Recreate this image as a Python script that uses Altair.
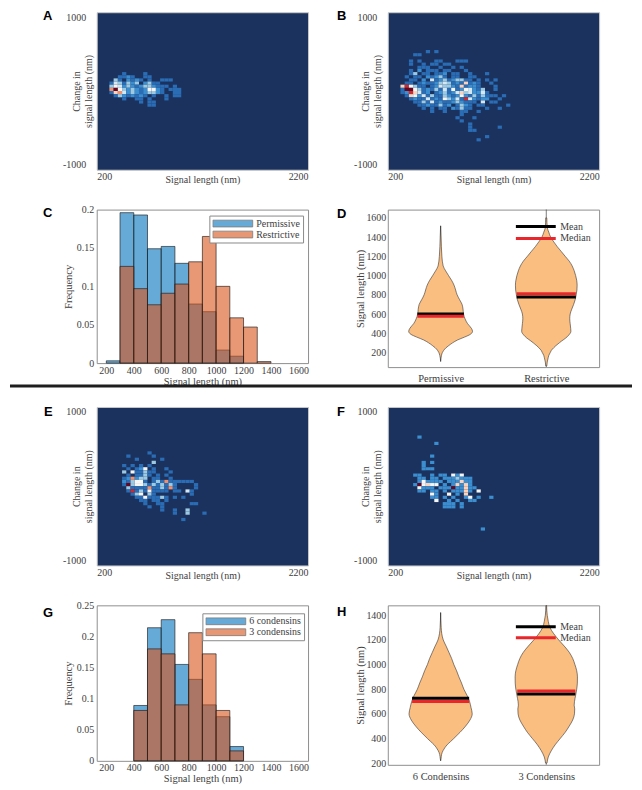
import altair as alt
import pandas as pd

SERIF = "Liberation Serif"
SANS = "Liberation Sans"
INK = "#3d3d3d"
NAVY = "#1c325e"
FRAME = "#8f8f8f"
VIOLIN = "#fbbe81"

# ---------------- heat maps: 2-D histograms, 40 nm bins ----------------
# each string is one row of bins (top to bottom); '.' = empty, digits = count level
HM_LEVELS = ["1", "2", "3", "4", "5", "6", "7", "8", "9"]
HM_COLORS = ["#2a6db5", "#3b8ecf", "#9ccae3", "#d4e7f2", "#f6f6f6",
             "#fbd3bd", "#ef8f6e", "#cb2b2f", "#6a051f"]

A_ROW0, A_COL0 = 19, 2
A_GRID = [
    "....1....1",
    "...1121..11",
    "..31.2121.1..111",
    ".1431323.2311",
    ".35423212332111.1",
    ".7953232125521.111",
    ".1674232123321..11",
    "..13212121.1..1.11",
    "....1..11.1...1",
    "........1.11",
    "..........11",
]

B_ROW0, B_COL0 = 12, 3
B_GRID = [
    "......1.1",
    "...11",
    "",
    "..1.1...11...111",
    "..1..1.11.11",
    "....111..1..1.1",
    "..1.2.111.11...1",
    "..13.11.112.11..1...1",
    ".1.11.21231.11..11",
    "..11.2.4123123311.1.1.1",
    ".11.121123431216121..1",
    "685311.124332161221...1",
    "19953121314151254213..1",
    "1286412.1231246342241",
    ".1652413113212521313111.1",
    "..1211412153241842122..1",
    "...113141211232111.4.11",
    "....11211312.1321.11.....1",
    ".....1.1.11.21311...1..1",
    ".......1..1...11..1",
    "..............1",
    ".............1...1",
    "..............1",
    "................1",
    "................1......1",
    "................11",
    "",
    "....................1",
    "..................1",
]

E_ROW0, E_COL0 = 14, 6
E_GRID = [
    "......1",
    ".1.....1",
    "...1.....1",
    ".......3",
    "1.1.1.1",
    ".1.125.1..1",
    "3.511311...1",
    ".1.1131.1.1",
    "127233.11..1",
    "213551.1317111111",
    "1935531313131....1",
    ".311117113171....1",
    ".1813151111.11.41",
    "..135.31........1",
    "...11511131.1.1",
    "....11.11.1",
    ".....1..11......11",
    "......1..1",
    ".........1..1..3",
    "............1..3...1",
    "",
    "..............1",
]

F_ROW0, F_COL0 = 9, 6
F_GRID = [
    ".2",
    "",
    ".....2",
    "", "", "",
    "....2",
    "",
    "..2.2",
    "..2",
    "..222",
    "",
    "22..2.22.525",
    ".22.22.2223222",
    ".252222.222622",
    "295655.2.26262",
    ".5222.222922622",
    ".22.22.2.22262.5",
    "....52..5.2.6",
    "....22.2.2..25.2..2",
    ".....5..2.2..22",
    ".......222.2",
    ".......222.2",
    "", "", "", "", "", "",
    "................2",
]

# ---------------- histograms ----------------
C_EDGES = [200, 300, 400, 500, 600, 700, 800, 900, 1000, 1100, 1200, 1300, 1400]
C_NAMES = ["Permissive", "Restrictive"]
C_PERM = [0.003, 0.196, 0.193, 0.149, 0.152, 0.130, 0.077, 0.067, 0.017, 0.009, 0.0, 0.0]
C_REST = [0.0, 0.126, 0.097, 0.076, 0.091, 0.103, 0.132, 0.165, 0.100, 0.059, 0.047, 0.002]

G_EDGES = [400, 500, 600, 700, 800, 900, 1000, 1100, 1200]
G_NAMES = ["6 condensins", "3 condensins"]
G_SIX = [0.089, 0.214, 0.227, 0.155, 0.131, 0.090, 0.071, 0.023]
G_THREE = [0.081, 0.180, 0.172, 0.090, 0.206, 0.172, 0.081, 0.016]

HIST_XTICKS = [200, 400, 600, 800, 1000, 1200, 1400, 1600]

# ---------------- violins (half-width in category units) ----------------
D_GROUPS = ["Permissive", "Restrictive"]
D_PERM_Y = [107, 140, 170, 200, 220, 250, 270, 300, 330, 360, 390, 420, 450, 500, 550, 600,
            650, 700, 750, 800, 850, 900, 950, 1000, 1050, 1100, 1200, 1300, 1400, 1517]
D_PERM_HW = [0.0, 0.003, 0.008, 0.017, 0.028, 0.052, 0.075, 0.113, 0.160, 0.226, 0.283, 0.302,
             0.292, 0.255, 0.231, 0.217, 0.212, 0.203, 0.179, 0.156, 0.142, 0.127, 0.104,
             0.075, 0.047, 0.024, 0.012, 0.007, 0.004, 0.0]
D_REST_Y = [60, 100, 150, 170, 200, 220, 250, 270, 300, 320, 350, 380, 420, 450, 500, 550, 600,
            650, 700, 750, 800, 850, 900, 950, 1000, 1050, 1100, 1150, 1200, 1250, 1300,
            1350, 1400, 1450, 1500, 1600]
D_REST_HW = [0.005, 0.009, 0.019, 0.024, 0.038, 0.047, 0.071, 0.090, 0.123, 0.146, 0.184, 0.212,
             0.233, 0.231, 0.226, 0.222, 0.226, 0.241, 0.259, 0.274, 0.283, 0.290, 0.292,
             0.288, 0.278, 0.264, 0.245, 0.217, 0.179, 0.142, 0.104, 0.071, 0.041, 0.024,
             0.009, 0.005]
D_TAIL_LO = [107, 0]
D_TAIL_HI = [1517, 2000]
D_MEAN = [600, 777]
D_MEDIAN = [577, 812]
D_LINE_HW = [0.22, 0.28]

H_GROUPS = ["6 Condensins", "3 Condensins"]
H_SIX_Y = [219, 240, 270, 300, 325, 350, 375, 400, 450, 500, 550, 600, 650, 700, 750, 800,
           850, 900, 950, 1000, 1050, 1100, 1150, 1200, 1250, 1300, 1422]
H_SIX_HW = [0.0, 0.004, 0.009, 0.022, 0.040, 0.063, 0.094, 0.125, 0.184, 0.236, 0.278, 0.299,
            0.288, 0.274, 0.250, 0.220, 0.198, 0.173, 0.151, 0.125, 0.104, 0.078, 0.052,
            0.025, 0.011, 0.005, 0.0]
H_THREE_Y = [200, 250, 300, 350, 400, 450, 500, 550, 600, 640, 670, 700, 750, 800, 850, 900,
             950, 1000, 1050, 1100, 1150, 1200, 1250, 1300, 1350, 1400, 1480]
H_THREE_HW = [0.007, 0.019, 0.047, 0.085, 0.132, 0.179, 0.217, 0.250, 0.267, 0.269, 0.264,
              0.267, 0.278, 0.288, 0.294, 0.295, 0.288, 0.271, 0.250, 0.217, 0.170, 0.118,
              0.071, 0.035, 0.019, 0.009, 0.003]
H_TAIL_LO = [219, 0]
H_TAIL_HI = [1422, 2000]
H_MEAN = [727, 762]
H_MEDIAN = [700, 786]
H_LINE_HW = [0.27, 0.275]

STATS = ["Mean", "Median"]
STAT_COLORS = ["#000000", "#e8262b"]

ASCII_NUM = "datum.value < 0 ? '-' + abs(datum.value) : '' + datum.value"


def letter_mark(letter, dx, dy):
    return alt.Chart(pd.DataFrame({"t": [letter]})).mark_text(
        font=SANS, fontSize=13, fontWeight="bold", align="left", baseline="top", color="#000"
    ).encode(x=alt.value(dx), y=alt.value(dy), text="t:N")


def hm_table(grid, row0, col0):
    recs = []
    for i, line in enumerate(grid):
        for j, ch in enumerate(line):
            if ch != ".":
                x0 = 200 + 40 * (col0 + j)
                ytop = 1000 - 40 * (row0 + i)
                recs.append({"x0": x0, "x1": x0 + 40, "y0": ytop - 40, "y1": ytop, "level": ch})
    return pd.DataFrame(recs)


def heatmap(grid, row0, col0, letter, ldx, ldy, tx, height):
    df = hm_table(grid, row0, col0)
    xs = alt.Scale(domain=[200, 2200], nice=False, zero=False)
    ys = alt.Scale(domain=[-1000, 1000], nice=False, zero=False)
    rect = alt.Chart(df).mark_rect().encode(
        x=alt.X("x0:Q", scale=xs, axis=alt.Axis(
            values=[200, 2200], labelExpr=ASCII_NUM, title="Signal length (nm)",
            labelFlush=True, ticks=False, tickSize=0, domain=False, labelPadding=2,
            titleY=5, titleBaseline="top", titleFontSize=10)),
        x2="x1:Q",
        y=alt.Y("y0:Q", scale=ys, axis=alt.Axis(
            values=[-1000, 1000], labelExpr=ASCII_NUM, title=["Change in", "signal length (nm)"],
            ticks=False, tickSize=0, domain=False, labelPadding=11,
            labelBaseline={"condition": {"test": "datum.value > 0", "value": "top"},
                           "value": "bottom"},
            titleX=tx, titleBaseline="bottom", titleFontSize=10, titleLineHeight=12)),
        y2="y1:Q",
        color=alt.Color("level:N", scale=alt.Scale(domain=HM_LEVELS, range=HM_COLORS),
                        legend=None),
    )
    return alt.layer(rect, letter_mark(letter, ldx, ldy)).properties(
        width=212, height=height,
        view=alt.ViewBackground(fill=NAVY, stroke="#c8c8c8", strokeWidth=1))


def hist(edges, names, s1, s2, ymax, yticks, letter, ldx, ldy, lx, ly, height, title_y,
         extra=None):
    recs = []
    for name, vals in ((names[0], s1), (names[1], s2)):
        for i, v in enumerate(vals):
            if v > 0:
                recs.append({"series": name, "x0": edges[i], "x1": edges[i + 1],
                             "freq": v, "base": 0.0})
    df = pd.DataFrame(recs)
    bars = alt.Chart(df).mark_rect(fillOpacity=0.6, stroke="#1a1a1a", strokeWidth=0.8,
                                   strokeOpacity=0.8).encode(
        x=alt.X("x0:Q", scale=alt.Scale(domain=[130, 1670], nice=False, zero=False),
                axis=alt.Axis(values=HIST_XTICKS, format="d", title="Signal length (nm)",
                              ticks=False, tickSize=0, domain=False, labelPadding=2,
                              titleY=title_y, titleBaseline="top")),
        x2="x1:Q",
        y=alt.Y("freq:Q", stack=None, scale=alt.Scale(domain=[0, ymax], nice=False),
                axis=alt.Axis(values=yticks, format=".2~f", title="Frequency", ticks=False,
                              tickSize=0, domain=False, labelPadding=3, titleX=-23)),
        y2="base:Q",
        color=alt.Color("series:N", sort=names,
                        scale=alt.Scale(domain=names, range=["#0072BD", "#D95319"]),
                        legend=alt.Legend(title=None, orient="none", legendX=lx, legendY=ly,
                                          symbolType="M-1,-0.17H1V0.17H-1Z", symbolSize=1600,
                                          symbolOpacity=0.6, symbolStrokeColor="#222",
                                          symbolStrokeWidth=0.8, clipHeight=10, rowPadding=1,
                                          padding=3, strokeColor="#8a8a8a", fillColor="white",
                                          labelOffset=3, labelFontSize=10)),
    )
    layers = [bars, letter_mark(letter, ldx, ldy)]
    if extra is not None:
        layers.append(extra)
    return alt.layer(*layers).properties(
        width=212, height=height,
        view=alt.ViewBackground(fill="white", stroke=FRAME, strokeWidth=1))


def violin(groups, profiles, tails_lo, tails_hi, means, medians, line_hw, ydom, yticks,
           letter, ldx, ldy, ly, clip_h, height, lab_pad):
    prof = []
    for gi, (ys, hws) in enumerate(profiles):
        c = gi + 1
        for y, hw in zip(ys, hws):
            prof.append({"g": groups[gi], "y": y, "xl": c - hw, "xr": c + hw})
    prof = pd.DataFrame(prof)
    tails = pd.DataFrame({"c": [1, 2], "lo": tails_lo, "hi": tails_hi})
    st = []
    for gi in range(2):
        c = gi + 1
        st.append({"stat": "Mean", "v": means[gi], "xl": c - line_hw[gi], "xr": c + line_hw[gi]})
        st.append({"stat": "Median", "v": medians[gi], "xl": c - line_hw[gi], "xr": c + line_hw[gi]})
    st = pd.DataFrame(st)

    xs = alt.Scale(domain=[0.5, 2.5], nice=False, zero=False)
    ys = alt.Scale(domain=ydom, nice=False, zero=False)
    lab = f"datum.value == 1 ? '{groups[0]}' : '{groups[1]}'"
    xax = alt.Axis(values=[1, 2], labelExpr=lab, title=None, ticks=False, tickSize=0,
                   domain=False, labelPadding=lab_pad, labelFontSize=10.5)
    yax = alt.Axis(values=yticks, format="d", title="Signal length (nm)", ticks=False,
                   tickSize=0, domain=False, labelPadding=2, titleX=-22)

    tail = alt.Chart(tails).mark_rule(color="#444", strokeWidth=0.7, clip=True).encode(
        x=alt.X("c:Q", scale=xs, axis=xax), y=alt.Y("lo:Q", scale=ys, axis=yax), y2="hi:Q")
    area = alt.Chart(prof).mark_area(orient="horizontal", interpolate="monotone", fill=VIOLIN,
                                     stroke="#333", strokeWidth=0.6, clip=True).encode(
        y=alt.Y("y:Q", scale=ys, axis=yax),
        x=alt.X("xl:Q", scale=xs, axis=xax, stack=None), x2="xr:Q",
        detail="g:N")
    lines = alt.Chart(st).mark_rule(strokeWidth=3).encode(
        y=alt.Y("v:Q", scale=ys, axis=yax), x=alt.X("xl:Q", scale=xs, axis=xax), x2="xr:Q",
        color=alt.Color("stat:N", sort=STATS,
                        scale=alt.Scale(domain=STATS, range=STAT_COLORS),
                        legend=alt.Legend(title=None, orient="none", legendX=127, legendY=ly,
                                          symbolType="stroke", symbolSize=1600,
                                          symbolStrokeWidth=3, clipHeight=clip_h, padding=0,
                                          rowPadding=0, labelOffset=3, labelFontSize=10)))
    return alt.layer(tail, area, lines, letter_mark(letter, ldx, ldy)).properties(
        width=212, height=height,
        view=alt.ViewBackground(fill="white", stroke=FRAME, strokeWidth=1))


sep = alt.Chart(pd.DataFrame({"a": [0]})).mark_rule(color="#1e1e1e", strokeWidth=3).encode(
    x=alt.value(-87), x2=alt.value(537), y=alt.value(177))

pA = heatmap(A_GRID, A_ROW0, A_COL0, "A", -54, -2, -15, 158)
pB = heatmap(B_GRID, B_ROW0, B_COL0, "B", -51, -2, -17, 158)
pC = hist(C_EDGES, C_NAMES, C_PERM, C_REST, 0.2, [0, 0.05, 0.1, 0.15, 0.2],
          "C", -54, -3, 113, 6, 154, 13, extra=sep)
pD = violin(D_GROUPS, [(D_PERM_Y, D_PERM_HW), (D_REST_Y, D_REST_HW)], D_TAIL_LO, D_TAIL_HI,
            D_MEAN, D_MEDIAN, D_LINE_HW, [48, 1686],
            [200, 400, 600, 800, 1000, 1200, 1400, 1600], "D", -51, -2, 11, 12, 158, 6)
pE = heatmap(E_GRID, E_ROW0, E_COL0, "E", -53, -1, -15, 159)
pF = heatmap(F_GRID, F_ROW0, F_COL0, "F", -51, -1, -17, 159)
pG = hist(G_EDGES, G_NAMES, G_SIX, G_THREE, 0.25, [0, 0.05, 0.1, 0.15, 0.2, 0.25],
          "G", -54, 2, 106, 8, 156, 13)
pH = violin(H_GROUPS, [(H_SIX_Y, H_SIX_HW), (H_THREE_Y, H_THREE_HW)], H_TAIL_LO, H_TAIL_HI,
            H_MEAN, H_MEDIAN, H_LINE_HW, [186, 1481],
            [200, 400, 600, 800, 1000, 1200, 1400], "H", -51, 1, 16, 11, 160, 7)

chart = alt.concat(pA, pB, pC, pD, pE, pF, pG, pH, columns=2,
                   spacing={"row": 40, "column": 80}, bounds="flush").resolve_scale(
    color="independent"
).resolve_legend(
    color="independent"
).properties(
    padding=0
).configure_axis(
    labelFont=SERIF, titleFont=SERIF, labelColor=INK, titleColor=INK,
    labelFontSize=10, titleFontSize=10.5, titleFontWeight="normal", grid=False
).configure_legend(
    labelFont=SERIF, labelColor=INK, labelFontSize=10
)

chart.save("out.html", embed_options={"renderer": "svg", "actions": False})
